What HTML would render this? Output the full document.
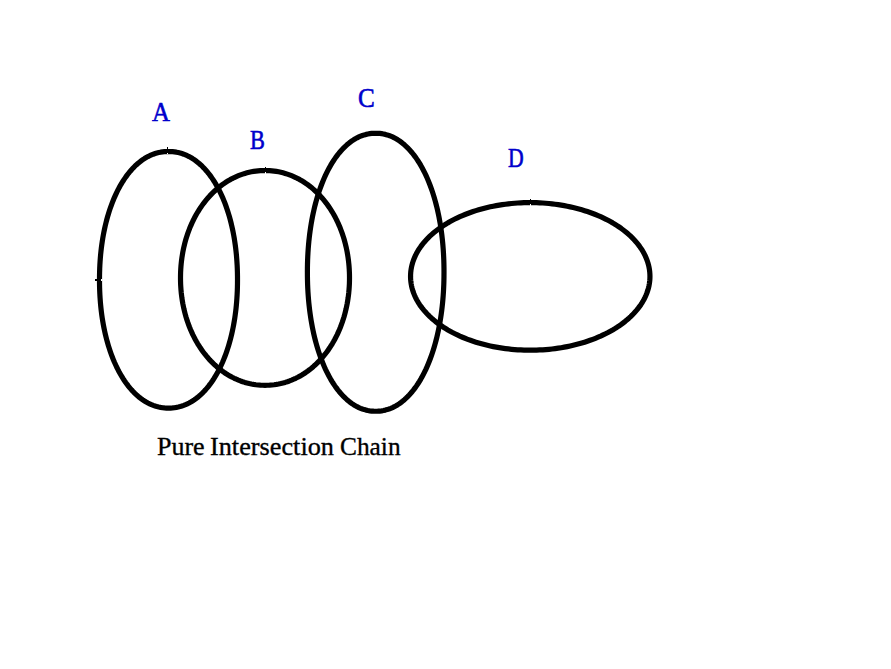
<!DOCTYPE html>
<html><head><meta charset="utf-8">
<style>
html,body{margin:0;padding:0;background:#fff;width:891px;height:669px;overflow:hidden}
svg{position:absolute;left:0;top:0}
.l{position:absolute;font-family:"Liberation Serif",serif;color:#0000cc;line-height:1;white-space:nowrap;transform-origin:0 0;-webkit-text-stroke:0.6px #0000cc}
.w{position:absolute;font-family:"Liberation Serif",serif;color:#000;line-height:1;white-space:nowrap;font-size:26px;top:434.4px;transform-origin:0 0;-webkit-text-stroke:0.35px #000}
</style></head><body>
<svg width="891" height="669" viewBox="0 0 891 669">
<g fill="none" stroke="#000" stroke-width="5.2" stroke-linejoin="round">
<path d="M237.50,279.80L237.48,283.66L237.41,287.32L237.30,290.90L237.14,294.43L236.93,297.91L236.68,301.35L236.39,304.76L236.05,308.14L235.67,311.47L235.24,314.78L234.77,318.05L234.25,321.28L233.69,324.47L233.09,327.63L232.44,330.75L231.75,333.82L231.02,336.85L230.25,339.84L229.44,342.79L228.59,345.68L227.69,348.53L226.76,351.33L225.79,354.08L224.78,356.77L223.73,359.41L222.65,361.99L221.52,364.52L220.37,366.99L219.17,369.39L217.95,371.74L216.68,374.02L215.39,376.24L214.06,378.39L212.70,380.48L211.31,382.50L209.89,384.45L208.45,386.32L206.97,388.13L205.46,389.87L203.93,391.53L202.37,393.11L200.79,394.62L199.18,396.06L197.55,397.42L195.90,398.70L194.22,399.90L192.53,401.02L190.81,402.06L189.07,403.02L187.31,403.89L185.53,404.69L183.74,405.40L181.93,406.03L180.09,406.58L178.24,407.04L176.37,407.42L174.47,407.72L172.55,407.93L170.58,408.06L168.50,408.10L166.42,408.06L164.45,407.93L162.53,407.72L160.63,407.42L158.76,407.04L156.91,406.58L155.07,406.03L153.26,405.40L151.47,404.69L149.69,403.89L147.93,403.02L146.19,402.06L144.47,401.02L142.78,399.90L141.10,398.70L139.45,397.42L137.82,396.06L136.21,394.62L134.63,393.11L133.07,391.53L131.54,389.87L130.03,388.13L128.55,386.32L127.11,384.45L125.69,382.50L124.30,380.48L122.94,378.39L121.61,376.24L120.32,374.02L119.05,371.74L117.83,369.39L116.63,366.99L115.48,364.52L114.35,361.99L113.27,359.41L112.22,356.77L111.21,354.08L110.24,351.33L109.31,348.53L108.41,345.68L107.56,342.79L106.75,339.84L105.98,336.85L105.25,333.82L104.56,330.75L103.91,327.63L103.31,324.47L102.75,321.28L102.23,318.05L101.76,314.78L101.33,311.47L100.95,308.14L100.61,304.76L100.32,301.35L100.07,297.91L99.86,294.43L99.70,290.90L99.59,287.32L99.52,283.66L99.50,279.80L99.52,275.94L99.59,272.28L99.70,268.70L99.86,265.17L100.07,261.69L100.32,258.25L100.61,254.84L100.95,251.46L101.33,248.13L101.76,244.82L102.23,241.55L102.75,238.32L103.31,235.13L103.91,231.97L104.56,228.85L105.25,225.78L105.98,222.75L106.75,219.76L107.56,216.81L108.41,213.92L109.31,211.07L110.24,208.27L111.21,205.52L112.22,202.83L113.27,200.19L114.35,197.61L115.48,195.08L116.63,192.61L117.83,190.21L119.05,187.86L120.32,185.58L121.61,183.36L122.94,181.21L124.30,179.12L125.69,177.10L127.11,175.15L128.55,173.28L130.03,171.47L131.54,169.73L133.07,168.07L134.63,166.49L136.21,164.98L137.82,163.54L139.45,162.18L141.10,160.90L142.78,159.70L144.47,158.58L146.19,157.54L147.93,156.58L149.69,155.71L151.47,154.91L153.26,154.20L155.07,153.57L156.91,153.02L158.76,152.56L160.63,152.18L162.53,151.88L164.45,151.67L166.42,151.54L168.50,151.50L170.58,151.54L172.55,151.67L174.47,151.88L176.37,152.18L178.24,152.56L180.09,153.02L181.93,153.57L183.74,154.20L185.53,154.91L187.31,155.71L189.07,156.58L190.81,157.54L192.53,158.58L194.22,159.70L195.90,160.90L197.55,162.18L199.18,163.54L200.79,164.98L202.37,166.49L203.93,168.07L205.46,169.73L206.97,171.47L208.45,173.28L209.89,175.15L211.31,177.10L212.70,179.12L214.06,181.21L215.39,183.36L216.68,185.58L217.95,187.86L219.17,190.21L220.37,192.61L221.52,195.08L222.65,197.61L223.73,200.19L224.78,202.83L225.79,205.52L226.76,208.27L227.69,211.07L228.59,213.92L229.44,216.81L230.25,219.76L231.02,222.75L231.75,225.78L232.44,228.85L233.09,231.97L233.69,235.13L234.25,238.32L234.77,241.55L235.24,244.82L235.67,248.13L236.05,251.46L236.39,254.84L236.68,258.25L236.93,261.69L237.14,265.17L237.30,268.70L237.41,272.28L237.48,275.94Z"/>
<path d="M349.50,277.90L349.47,280.87L349.39,283.77L349.24,286.65L349.04,289.51L348.79,292.35L348.47,295.17L348.11,297.97L347.68,300.75L347.20,303.52L346.66,306.26L346.07,308.98L345.42,311.67L344.72,314.34L343.97,316.98L343.16,319.59L342.30,322.17L341.38,324.72L340.42,327.23L339.40,329.71L338.33,332.15L337.22,334.56L336.05,336.92L334.84,339.25L333.58,341.53L332.27,343.76L330.91,345.95L329.51,348.10L328.07,350.19L326.59,352.24L325.06,354.23L323.49,356.18L321.88,358.06L320.23,359.90L318.54,361.68L316.82,363.40L315.06,365.06L313.27,366.66L311.44,368.21L309.58,369.69L307.69,371.11L305.76,372.47L303.81,373.76L301.83,374.98L299.83,376.15L297.80,377.24L295.74,378.27L293.67,379.23L291.57,380.12L289.45,380.94L287.31,381.69L285.15,382.38L282.98,382.99L280.79,383.53L278.59,384.00L276.37,384.39L274.13,384.72L271.88,384.97L269.62,385.15L267.33,385.26L265.00,385.30L262.67,385.26L260.38,385.15L258.12,384.97L255.87,384.72L253.63,384.39L251.41,384.00L249.21,383.53L247.02,382.99L244.85,382.38L242.69,381.69L240.55,380.94L238.43,380.12L236.33,379.23L234.26,378.27L232.20,377.24L230.17,376.15L228.17,374.98L226.19,373.76L224.24,372.47L222.31,371.11L220.42,369.69L218.56,368.21L216.73,366.66L214.94,365.06L213.18,363.40L211.46,361.68L209.77,359.90L208.12,358.06L206.51,356.18L204.94,354.23L203.41,352.24L201.93,350.19L200.49,348.10L199.09,345.95L197.73,343.76L196.42,341.53L195.16,339.25L193.95,336.92L192.78,334.56L191.67,332.15L190.60,329.71L189.58,327.23L188.62,324.72L187.70,322.17L186.84,319.59L186.03,316.98L185.28,314.34L184.58,311.67L183.93,308.98L183.34,306.26L182.80,303.52L182.32,300.75L181.89,297.97L181.53,295.17L181.21,292.35L180.96,289.51L180.76,286.65L180.61,283.77L180.53,280.87L180.50,277.90L180.53,274.93L180.61,272.03L180.76,269.15L180.96,266.29L181.21,263.45L181.53,260.63L181.89,257.83L182.32,255.05L182.80,252.28L183.34,249.54L183.93,246.82L184.58,244.13L185.28,241.46L186.03,238.82L186.84,236.21L187.70,233.63L188.62,231.08L189.58,228.57L190.60,226.09L191.67,223.65L192.78,221.24L193.95,218.88L195.16,216.55L196.42,214.27L197.73,212.04L199.09,209.85L200.49,207.70L201.93,205.61L203.41,203.56L204.94,201.57L206.51,199.62L208.12,197.74L209.77,195.90L211.46,194.12L213.18,192.40L214.94,190.74L216.73,189.14L218.56,187.59L220.42,186.11L222.31,184.69L224.24,183.33L226.19,182.04L228.17,180.82L230.17,179.65L232.20,178.56L234.26,177.53L236.33,176.57L238.43,175.68L240.55,174.86L242.69,174.11L244.85,173.42L247.02,172.81L249.21,172.27L251.41,171.80L253.63,171.41L255.87,171.08L258.12,170.83L260.38,170.65L262.67,170.54L265.00,170.50L267.33,170.54L269.62,170.65L271.88,170.83L274.13,171.08L276.37,171.41L278.59,171.80L280.79,172.27L282.98,172.81L285.15,173.42L287.31,174.11L289.45,174.86L291.57,175.68L293.67,176.57L295.74,177.53L297.80,178.56L299.83,179.65L301.83,180.82L303.81,182.04L305.76,183.33L307.69,184.69L309.58,186.11L311.44,187.59L313.27,189.14L315.06,190.74L316.82,192.40L318.54,194.12L320.23,195.90L321.88,197.74L323.49,199.62L325.06,201.57L326.59,203.56L328.07,205.61L329.51,207.70L330.91,209.85L332.27,212.04L333.58,214.27L334.84,216.55L336.05,218.88L337.22,221.24L338.33,223.65L339.40,226.09L340.42,228.57L341.38,231.08L342.30,233.63L343.16,236.21L343.97,238.82L344.72,241.46L345.42,244.13L346.07,246.82L346.66,249.54L347.20,252.28L347.68,255.05L348.11,257.83L348.47,260.63L348.79,263.45L349.04,266.29L349.24,269.15L349.39,272.03L349.47,274.93Z"/>
<path d="M444.00,272.25L443.98,276.44L443.91,280.40L443.80,284.28L443.64,288.10L443.44,291.87L443.19,295.60L442.90,299.29L442.56,302.95L442.18,306.57L441.76,310.15L441.29,313.69L440.78,317.19L440.23,320.65L439.63,324.07L438.99,327.44L438.31,330.78L437.59,334.06L436.83,337.30L436.02,340.49L435.18,343.63L434.29,346.71L433.37,349.74L432.41,352.72L431.41,355.64L430.37,358.50L429.30,361.30L428.19,364.03L427.04,366.71L425.86,369.32L424.64,371.86L423.39,374.33L422.11,376.73L420.80,379.07L419.46,381.33L418.08,383.51L416.67,385.62L415.24,387.66L413.78,389.62L412.29,391.50L410.77,393.30L409.23,395.01L407.66,396.65L406.07,398.20L404.46,399.68L402.82,401.06L401.16,402.36L399.48,403.58L397.78,404.70L396.06,405.74L394.32,406.69L392.56,407.56L390.78,408.33L388.99,409.01L387.17,409.60L385.34,410.11L383.49,410.52L381.61,410.84L379.70,411.07L377.76,411.20L375.70,411.25L373.64,411.20L371.70,411.07L369.79,410.84L367.91,410.52L366.06,410.11L364.23,409.60L362.41,409.01L360.62,408.33L358.84,407.56L357.08,406.69L355.34,405.74L353.62,404.70L351.92,403.58L350.24,402.36L348.58,401.06L346.94,399.68L345.33,398.20L343.74,396.65L342.17,395.01L340.63,393.30L339.11,391.50L337.62,389.62L336.16,387.66L334.73,385.62L333.32,383.51L331.94,381.33L330.60,379.07L329.29,376.73L328.01,374.33L326.76,371.86L325.54,369.32L324.36,366.71L323.21,364.03L322.10,361.30L321.03,358.50L319.99,355.64L318.99,352.72L318.03,349.74L317.11,346.71L316.22,343.63L315.38,340.49L314.57,337.30L313.81,334.06L313.09,330.78L312.41,327.44L311.77,324.07L311.17,320.65L310.62,317.19L310.11,313.69L309.64,310.15L309.22,306.57L308.84,302.95L308.50,299.29L308.21,295.60L307.96,291.87L307.76,288.10L307.60,284.28L307.49,280.40L307.42,276.44L307.40,272.25L307.42,268.06L307.49,264.10L307.60,260.22L307.76,256.40L307.96,252.63L308.21,248.90L308.50,245.21L308.84,241.55L309.22,237.93L309.64,234.35L310.11,230.81L310.62,227.31L311.17,223.85L311.77,220.43L312.41,217.06L313.09,213.72L313.81,210.44L314.57,207.20L315.38,204.01L316.22,200.87L317.11,197.79L318.03,194.76L318.99,191.78L319.99,188.86L321.03,186.00L322.10,183.20L323.21,180.47L324.36,177.79L325.54,175.18L326.76,172.64L328.01,170.17L329.29,167.77L330.60,165.43L331.94,163.17L333.32,160.99L334.73,158.88L336.16,156.84L337.62,154.88L339.11,153.00L340.63,151.20L342.17,149.49L343.74,147.85L345.33,146.30L346.94,144.82L348.58,143.44L350.24,142.14L351.92,140.92L353.62,139.80L355.34,138.76L357.08,137.81L358.84,136.94L360.62,136.17L362.41,135.49L364.23,134.90L366.06,134.39L367.91,133.98L369.79,133.66L371.70,133.43L373.64,133.30L375.70,133.25L377.76,133.30L379.70,133.43L381.61,133.66L383.49,133.98L385.34,134.39L387.17,134.90L388.99,135.49L390.78,136.17L392.56,136.94L394.32,137.81L396.06,138.76L397.78,139.80L399.48,140.92L401.16,142.14L402.82,143.44L404.46,144.82L406.07,146.30L407.66,147.85L409.23,149.49L410.77,151.20L412.29,153.00L413.78,154.88L415.24,156.84L416.67,158.88L418.08,160.99L419.46,163.17L420.80,165.43L422.11,167.77L423.39,170.17L424.64,172.64L425.86,175.18L427.04,177.79L428.19,180.47L429.30,183.20L430.37,186.00L431.41,188.86L432.41,191.78L433.37,194.76L434.29,197.79L435.18,200.87L436.02,204.01L436.83,207.20L437.59,210.44L438.31,213.72L438.99,217.06L439.63,220.43L440.23,223.85L440.78,227.31L441.29,230.81L441.76,234.35L442.18,237.93L442.56,241.55L442.90,245.21L443.19,248.90L443.44,252.63L443.64,256.40L443.80,260.22L443.91,264.10L443.98,268.06Z"/>
<path d="M649.95,276.40L649.91,278.33L649.79,280.26L649.58,282.19L649.29,284.11L648.93,286.03L648.48,287.94L647.95,289.85L647.33,291.74L646.64,293.63L645.87,295.50L645.02,297.36L644.09,299.21L643.08,301.03L642.00,302.85L640.84,304.64L639.60,306.42L638.29,308.17L636.90,309.90L635.44,311.61L633.91,313.30L632.31,314.96L630.64,316.59L628.90,318.20L627.09,319.78L625.21,321.33L623.27,322.84L621.27,324.33L619.20,325.78L617.08,327.20L614.89,328.58L612.65,329.93L610.34,331.24L607.99,332.52L605.58,333.75L603.12,334.95L600.61,336.11L598.05,337.22L595.44,338.29L592.79,339.32L590.10,340.31L587.37,341.26L584.59,342.16L581.78,343.01L578.94,343.82L576.06,344.58L573.15,345.30L570.21,345.97L567.24,346.59L564.25,347.16L561.23,347.69L558.19,348.16L555.14,348.59L552.06,348.96L548.98,349.29L545.87,349.57L542.76,349.80L539.64,349.97L536.51,350.10L533.38,350.17L530.25,350.20L527.12,350.17L523.99,350.10L520.86,349.97L517.74,349.80L514.63,349.57L511.52,349.29L508.44,348.96L505.36,348.59L502.31,348.16L499.27,347.69L496.25,347.16L493.26,346.59L490.29,345.97L487.35,345.30L484.44,344.58L481.56,343.82L478.72,343.01L475.91,342.16L473.13,341.26L470.40,340.31L467.71,339.32L465.06,338.29L462.45,337.22L459.89,336.11L457.38,334.95L454.92,333.75L452.51,332.52L450.16,331.24L447.85,329.93L445.61,328.58L443.42,327.20L441.30,325.78L439.23,324.33L437.23,322.84L435.29,321.33L433.41,319.78L431.60,318.20L429.86,316.59L428.19,314.96L426.59,313.30L425.06,311.61L423.60,309.90L422.21,308.17L420.90,306.42L419.66,304.64L418.50,302.85L417.42,301.03L416.41,299.21L415.48,297.36L414.63,295.50L413.86,293.63L413.17,291.74L412.55,289.85L412.02,287.94L411.57,286.03L411.21,284.11L410.92,282.19L410.71,280.26L410.59,278.33L410.55,276.40L410.59,274.47L410.71,272.54L410.92,270.61L411.21,268.69L411.57,266.77L412.02,264.86L412.55,262.95L413.17,261.06L413.86,259.17L414.63,257.30L415.48,255.44L416.41,253.59L417.42,251.77L418.50,249.95L419.66,248.16L420.90,246.38L422.21,244.63L423.60,242.90L425.06,241.19L426.59,239.50L428.19,237.84L429.86,236.21L431.60,234.60L433.41,233.02L435.29,231.47L437.23,229.96L439.23,228.47L441.30,227.02L443.42,225.60L445.61,224.22L447.85,222.87L450.16,221.56L452.51,220.28L454.92,219.05L457.38,217.85L459.89,216.69L462.45,215.58L465.06,214.51L467.71,213.48L470.40,212.49L473.13,211.54L475.91,210.64L478.72,209.79L481.56,208.98L484.44,208.22L487.35,207.50L490.29,206.83L493.26,206.21L496.25,205.64L499.27,205.11L502.31,204.64L505.36,204.21L508.44,203.84L511.52,203.51L514.63,203.23L517.74,203.00L520.86,202.83L523.99,202.70L527.12,202.63L530.25,202.60L533.38,202.63L536.51,202.70L539.64,202.83L542.76,203.00L545.87,203.23L548.98,203.51L552.06,203.84L555.14,204.21L558.19,204.64L561.23,205.11L564.25,205.64L567.24,206.21L570.21,206.83L573.15,207.50L576.06,208.22L578.94,208.98L581.78,209.79L584.59,210.64L587.37,211.54L590.10,212.49L592.79,213.48L595.44,214.51L598.05,215.58L600.61,216.69L603.12,217.85L605.58,219.05L607.99,220.28L610.34,221.56L612.65,222.87L614.89,224.22L617.08,225.60L619.20,227.02L621.27,228.47L623.27,229.96L625.21,231.47L627.09,233.02L628.90,234.60L630.64,236.21L632.31,237.84L633.91,239.50L635.44,241.19L636.90,242.90L638.29,244.63L639.60,246.38L640.84,248.16L642.00,249.95L643.08,251.77L644.09,253.59L645.02,255.44L645.87,257.30L646.64,259.17L647.33,261.06L647.95,262.95L648.48,264.86L648.93,266.77L649.29,268.69L649.58,270.61L649.79,272.54L649.91,274.47Z"/>
</g>
<g shape-rendering="crispEdges">
<rect x="167" y="147" width="1" height="2" fill="#000"/><rect x="167" y="153" width="1" height="1" fill="#fff"/>
<rect x="95" y="279" width="2" height="2" fill="#000"/><rect x="101" y="279" width="1" height="2" fill="#fff"/>
<rect x="265" y="167" width="1" height="1" fill="#000"/><rect x="265" y="172" width="1" height="2" fill="#fff"/>
<rect x="530" y="199" width="1" height="1" fill="#000"/><rect x="530" y="204" width="1" height="2" fill="#fff"/>
</g>
</svg>
<div class="l" style="left:152px;top:98.8px;font-size:27px;transform:scaleX(0.92)">A</div>
<div class="l" style="left:250px;top:127px;font-size:27.2px;transform:scaleX(0.82)">B</div>
<div class="l" style="left:358px;top:84.6px;font-size:27px;transform:scaleX(0.93)">C</div>
<div class="l" style="left:508.3px;top:144.8px;font-size:27.2px;transform:scaleX(0.8)">D</div>
<div class="w" style="left:157px">Pure</div>
<div class="w" style="left:209.5px;transform:scaleX(1.01)">Intersection</div>
<div class="w" style="left:340px;transform:scaleX(0.975)">Chain</div>
</body></html>
